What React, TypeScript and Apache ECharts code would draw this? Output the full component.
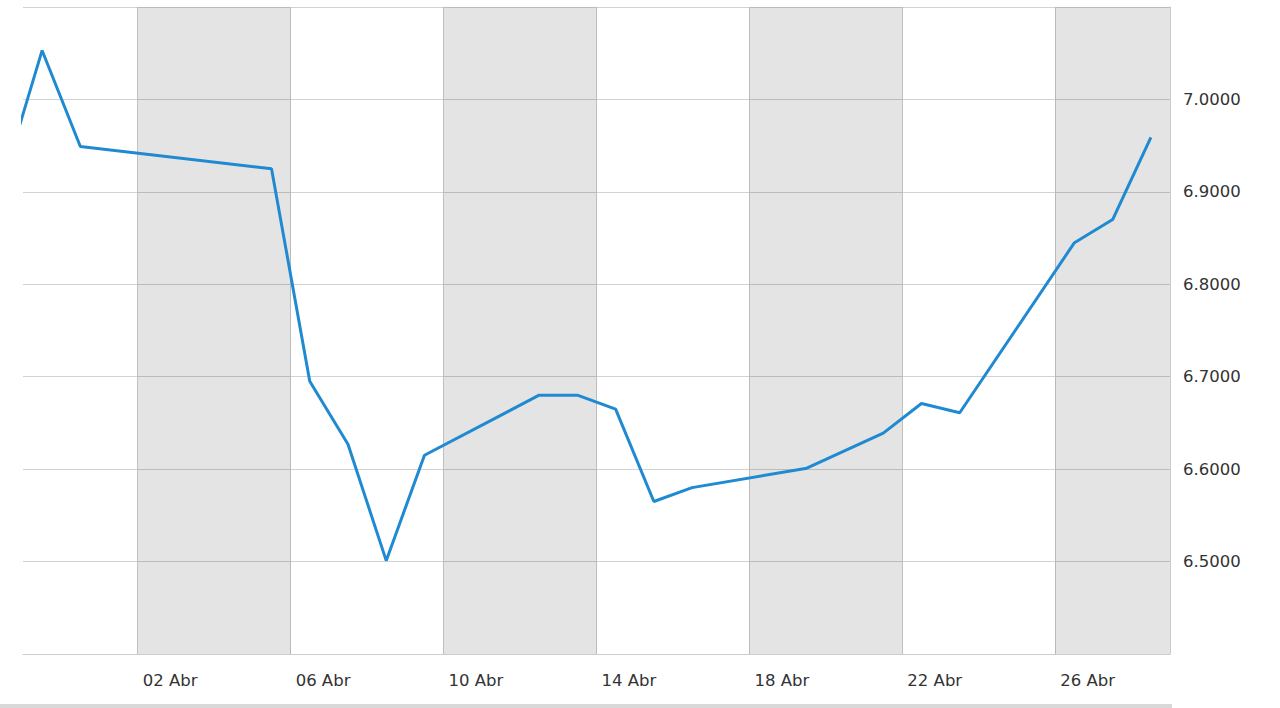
import { useEffect, useRef } from "react";
import * as echarts from "echarts";

// x positions: day of April (Apr d 00:00 = d), points sit at midday
const dayPositions = [-1.5, -0.5, 0.5, 5.5, 6.5, 7.5, 8.5, 9.5, 12.5, 13.5, 14.5, 15.5, 16.5, 19.5, 21.5, 22.5, 23.5, 26.5, 27.5, 28.5];
const rates = [6.915, 7.053, 6.949, 6.925, 6.695, 6.627, 6.501, 6.615, 6.680, 6.680, 6.665, 6.565, 6.580, 6.601, 6.639, 6.671, 6.661, 6.845, 6.870, 6.959];
const labelDays = [2, 6, 10, 14, 18, 22, 26];
const shadedBands = [[2, 6], [10, 14], [18, 22], [26, 29]];
const monthName = "Abr";
const xRange = [-1, 29];
const yRange = [6.4, 7.1];
const yStep = 0.1;

export default function App() {
  const ref = useRef<HTMLDivElement>(null);
  useEffect(() => {
    if (!ref.current) return;
    const chart = echarts.init(ref.current, undefined, { renderer: "svg" });
    const font = "'DejaVu Sans', Verdana, sans-serif";
    chart.setOption({
      animation: false,
      backgroundColor: "#ffffff",
      grid: { left: 23, right: 110, top: 7, bottom: 54 },
      xAxis: {
        type: "value",
        min: xRange[0],
        max: xRange[1],
        axisLine: { show: true, onZero: false, lineStyle: { color: "#cccccc", width: 1 } },
        axisTick: { show: false, customValues: labelDays },
        axisLabel: {
          customValues: labelDays,
          formatter: (v: number) => String(v).padStart(2, "0") + " " + monthName,
          align: "left",
          padding: [0, 0, 0, 5],
          margin: 18,
          color: "#333333",
          fontSize: 16.5,
          fontFamily: font,
        },
        splitLine: { show: true, lineStyle: { color: "#c8c8c8", width: 1 } },
      },
      yAxis: {
        type: "value",
        position: "right",
        min: yRange[0],
        max: yRange[1],
        interval: yStep,
        axisLine: { show: true, onZero: false, lineStyle: { color: "#cccccc", width: 1 } },
        axisTick: { show: false },
        axisLabel: {
          showMinLabel: false,
          showMaxLabel: false,
          formatter: (v: number) => v.toFixed(4),
          margin: 13,
          color: "#333333",
          fontSize: 16.5,
          fontFamily: font,
        },
        splitLine: { show: true, lineStyle: { color: "#d2d2d2", width: 1 } },
      },
      graphic: [
        {
          type: "rect",
          shape: { x: 0, y: 704, width: 1172, height: 4 },
          style: { fill: "#d9d9d9" },
          silent: true,
        },
      ],
      series: [
        {
          type: "line",
          data: dayPositions.map((d, i) => [d, rates[i]]),
          symbol: "none",
          clip: true,
          lineStyle: { color: "#1f8ad2", width: 3 },
          markArea: {
            silent: true,
            itemStyle: { color: "rgba(0,0,0,0.105)" },
            data: shadedBands.map((b) => [{ xAxis: b[0] }, { xAxis: b[1] }]),
          },
        },
      ],
    });
    return () => chart.dispose();
  }, []);
  return (
    <div
      ref={ref}
      style={{ position: "fixed", left: 0, top: 0, width: 1280, height: 708 }}
    />
  );
}
